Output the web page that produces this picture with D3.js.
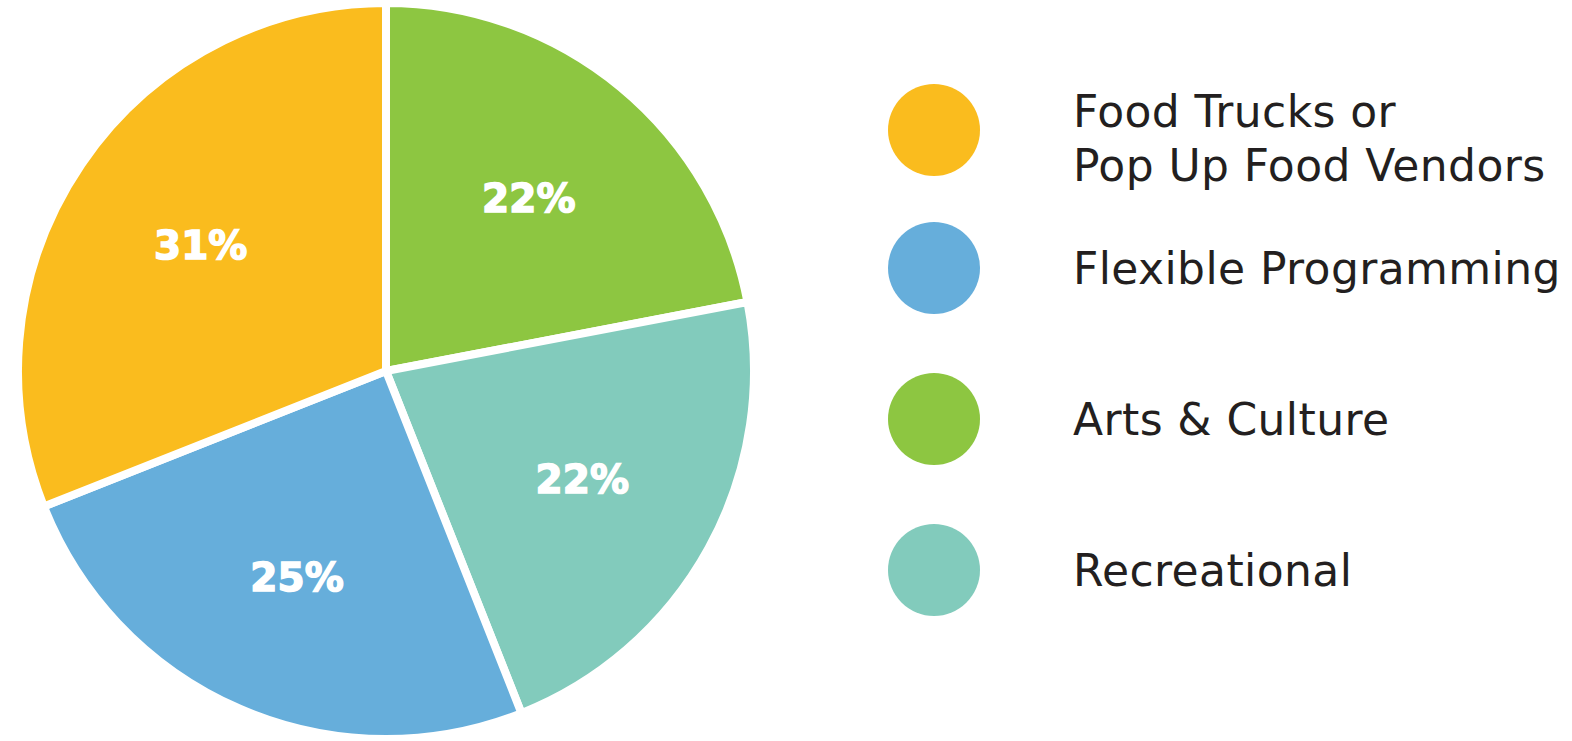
<!DOCTYPE html>
<html>
<head>
<meta charset="utf-8">
<script src="https://cdn.jsdelivr.net/npm/d3@7"></script>
<style>
  body { margin: 0; background: #fff; }
  .legend-text { font-family: "DejaVu Sans", sans-serif; fill: #231f20; }
  .pct { font-family: "DejaVu Sans", sans-serif; font-weight: bold; fill: #fff; }
</style>
</head>
<body>
<div id="chart"></div>
<script>
// pie order, clockwise from 12 o'clock
var sliceKeys = ["Arts & Culture", "Recreational", "Flexible Programming", "Food Trucks"];
var sliceValues = [22, 22, 25, 31];
var sliceColors = ["#8dc641", "#82cbbc", "#66aedb", "#fabc1e"];

// legend order
var legendKeys = ["Food Trucks", "Flexible Programming", "Arts & Culture", "Recreational"];
var legendLines = [["Food Trucks or", "Pop Up Food Vendors"], ["Flexible Programming"], ["Arts & Culture"], ["Recreational"]];

var width = 1572, height = 741;

var svg = d3.select("#chart")
    .append("svg")
    .attr("width", width)
    .attr("height", height);

var colour = d3.scaleOrdinal().domain(sliceKeys).range(sliceColors);

var radius = 368;
var g = svg.append("g")
    .attr("transform", "translate(386,371)");

var pie = d3.pie().sort(null).value(function(d, i) { return sliceValues[i]; });
var arcs = pie(sliceKeys);

var arc = d3.arc().innerRadius(0).outerRadius(radius);
var labelArc = d3.arc().innerRadius(224).outerRadius(224);

// slices with white separators
g.selectAll("path")
    .data(arcs)
    .enter()
    .append("path")
    .attr("d", arc)
    .style("fill", function(d) { return colour(d.data); })
    .style("stroke", "#fff")
    .style("stroke-width", 8)
    .style("stroke-linejoin", "miter");

// percentage labels
g.selectAll("text")
    .data(arcs)
    .enter()
    .append("text")
    .attr("class", "pct")
    .attr("transform", function(d) { return "translate(" + labelArc.centroid(d) + ")"; })
    .attr("dy", "0.36em")
    .style("text-anchor", "middle")
    .style("font-size", "39px")
    .style("stroke", "#fff")
    .style("stroke-width", 1.5)
    .text(function(d) { return d.value + "%"; });

// legend
var legendCy = [130, 268, 419, 570];

var items = svg.append("g")
    .selectAll("g")
    .data(legendKeys)
    .enter()
    .append("g")
    .attr("transform", function(d, i) { return "translate(934," + legendCy[i] + ")"; });

items.append("circle")
    .attr("r", 46)
    .style("fill", function(d) { return colour(d); });

items.append("text")
    .attr("class", "legend-text")
    .style("font-size", "44px")
    .style("letter-spacing", "0.4px")
    .attr("x", 139)
    .attr("y", function(d, i) { return legendLines[i].length > 1 ? -3 : 16; })
    .selectAll("tspan")
    .data(function(d, i) { return legendLines[i]; })
    .enter()
    .append("tspan")
    .attr("x", 139)
    .attr("dy", function(d, j) { return j === 0 ? 0 : 54; })
    .text(function(d) { return d; });
</script>
</body>
</html>
